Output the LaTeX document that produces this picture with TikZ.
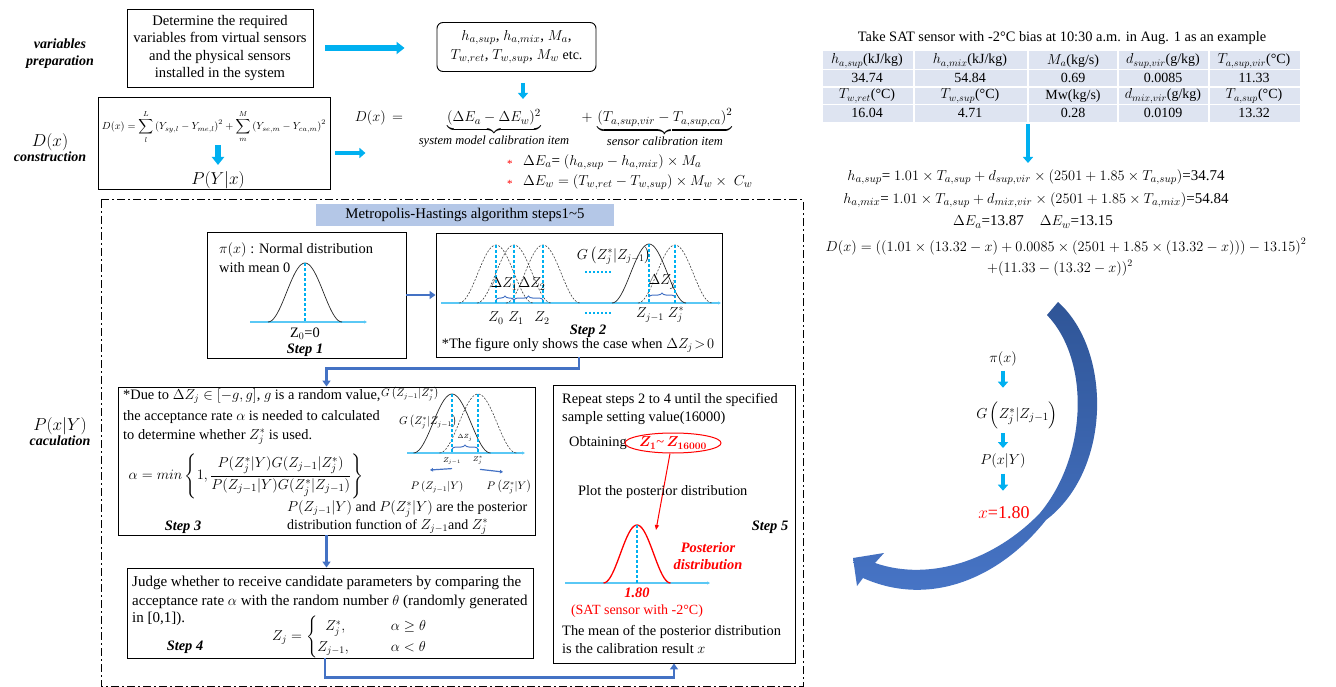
\documentclass[tikz,border=0pt]{standalone}
\usepackage{amsmath,amssymb}
\usepackage{graphicx}
\usepackage{fontspec}
\setmainfont{Liberation Serif}
\usetikzlibrary{arrows.meta,decorations.pathreplacing,shapes.geometric,calc}
\definecolor{cyanA}{RGB}{0,176,240}
\definecolor{blueA}{RGB}{68,114,196}
\definecolor{baseA}{RGB}{90,200,245}
\definecolor{titleA}{RGB}{180,199,231}
\definecolor{tabA}{RGB}{222,228,241}
\definecolor{arcA}{RGB}{47,85,151}
\definecolor{arcB}{RGB}{72,118,200}
\newcommand\fA{\fontsize{14.4}{17}\selectfont}
\newcommand\fB{\fontsize{14}{17}\selectfont}
\newcommand\fC{\fontsize{13}{15}\selectfont}
\newcommand\fM{\fontsize{15}{18}\selectfont}
\newcommand\mybell[5]{\draw[#1] plot[domain=-180:180,samples=41] ({#2+#3*\x/180},{#4-#5*(1+cos(\x))/2});}
\newcommand\tld{\char"7E\relax}
\begin{document}
\begin{tikzpicture}[x=1pt,y=-1pt,
 box/.style={draw, line width=0.9pt, inner sep=0pt},
 lbl/.style={align=center, font=\fB\bfseries\itshape},
 cyanarr/.style={draw=cyanA, line width=5.5pt, -{Triangle[length=8pt,width=12pt]}},
 cyansm/.style={draw=cyanA, line width=4.5pt, -{Triangle[length=6pt,width=10pt]}},
 bluecon/.style={draw=blueA, line width=2.4pt, -{Triangle[length=6pt,width=8pt]}},
 baseln/.style={draw=baseA, line width=1.2pt, -{Triangle[length=3pt,width=3pt]}},
 vdash/.style={draw=cyanA, line width=1.3pt, dash pattern=on 3pt off 2pt},
 dbell/.style={draw=black!75, line width=0.6pt, dash pattern=on 2pt off 1.5pt},
 sbell/.style={draw=black!85, line width=0.7pt},
 rbell/.style={draw=red, line width=1.3pt},
 bbrace/.style={draw=blueA, line width=1pt, decorate, decoration={brace, amplitude=4pt}},
 smallarr/.style={draw=blueA, line width=1.2pt, -{Triangle[length=3pt,width=3.5pt]}},
 txt/.style={anchor=west, inner sep=0pt, font=\fA},
 ellbox/.style={draw=red, line width=1pt, ellipse, minimum width=88pt, minimum height=20pt, inner sep=0pt, text=red, font=\fA},
]
\useasboundingbox (0,0) rectangle (1336,687);

% ---------- left labels
\node[lbl] (lv) at (60,54) {variables\\preparation};
\node[align=center] (ld) at (50,148) {{\fontsize{16}{17}\selectfont$D(x)$}\\{\fB\bfseries\itshape construction}};
\node[align=center] (lp) at (60,432) {{\fontsize{16}{17}\selectfont$P(x|Y)$}\\{\fB\bfseries\itshape caculation}};

% ---------- top boxes
\node[box, minimum width=186pt, minimum height=78pt, align=center, font=\fontsize{14.6}{17.3}\selectfont] (b1) at (220,48)
 {Determine the required\\variables from virtual sensors\\and the physical sensors\\installed in the system};
\node[box, rounded corners=6pt, minimum width=159pt, minimum height=49pt, align=center, font=\fM] (b2) at (516.5,47)
 {$h_{a,sup}$, $h_{a,mix}$, $M_a$,\\[1pt]$T_{w,ret}$, $T_{w,sup}$, $M_w$ {\fB etc.}};
\draw[cyanarr] ([xshift=12pt]b1.east) -- ([xshift=-32pt]b2.west |- b1.east);

\node[box, minimum width=232pt, minimum height=92pt] (b3) at (214,143) {};
\node (f1) at (214,127) {\resizebox{224pt}{!}{$D(x)=\displaystyle\sum_{l}^{L}\left(Y_{sy,l}-Y_{me,l}\right)^2+\sum_{m}^{M}\left(Y_{se,m}-Y_{ca,m}\right)^2$}};
\node[font=\fontsize{16}{17}\selectfont] (py) at (218,180) {$P(Y|x)$};
\coordinate (a3s) at (218,145);
\coordinate (a3e) at (218,165);
\draw[cyanarr] (a3s) -- (a3e);
\draw[cyansm] ([xshift=5pt,yshift=-10pt]b3.east) -- ([xshift=35pt,yshift=-10pt]b3.east);
\draw[cyansm] ([xshift=6.5pt,yshift=-11pt]b2.south) -- ([xshift=6.5pt,yshift=-27pt]b2.south);

% ---------- D(x) equation
\node[anchor=base, font=\fM] (deq) at (379,122) {$D(x)\,=$};
\node[anchor=base, font=\fM] (t1) at (494,122) {$\underbrace{(\Delta E_a-\Delta E_w)^2}_{\mbox{\fontsize{12.5}{13}\selectfont\itshape system model calibration item}}$};
\node[anchor=base, font=\fM] (t2) at (657,122) {$+\,\underbrace{\left(T_{a,sup,vir}-T_{a,sup,ca}\right)^2}_{\mbox{\fontsize{12.5}{13}\selectfont\itshape sensor calibration item}}$};
\node[anchor=west, text=red, font=\fontsize{11}{12}\selectfont, inner sep=0pt] (st1) at (507,164) {*};
\node[anchor=west, text=red, font=\fontsize{11}{12}\selectfont, inner sep=0pt] (st2) at (507,184) {*};
\node[anchor=west, font=\fM, inner sep=0pt] (ea) at (523,162) {$\Delta E_a$= $\left(h_{a,sup}-h_{a,mix}\right)\times M_a$};
\node[anchor=west, font=\fM, inner sep=0pt] (ew) at (523,182) {$\Delta E_w = \left(T_{w,ret}-T_{w,sup}\right)\times M_w\times\ C_w$};

% ---------- dash-dot frame
\draw[line width=1pt, dash pattern=on 8pt off 3pt on 2pt off 3pt] (101,200) rectangle (803,686);
\node[fill=titleA, minimum width=298pt, minimum height=22pt, inner sep=0pt, font=\fontsize{14.8}{17}\selectfont] (title) at (465,215) {Metropolis-Hastings algorithm steps1\tld 5};

% ---------- Step 1
\node[box, minimum width=199pt, minimum height=126pt] (s1) at (306.5,295) {};
\node[txt] (s1a) at (219,250) {{\fM$\pi(x)$} : Normal distribution};
\node[txt] (s1b) at (219,268) {with mean 0};
\draw[baseln] (250,322) -- (367,322);
\mybell{sbell}{305}{37}{322}{59}
\draw[vdash] (305,263) -- (305,322);
\node[font=\fA, inner sep=0pt] (z00) at (305,334) {Z$_0$=0};
\node[font=\fA\bfseries\itshape, inner sep=0pt] (st1l) at (305,350) {Step 1};

% ---------- Step 2
\node[box, minimum width=286pt, minimum height=124pt] (s2) at (579,295) {};
\draw[bluecon] (s1.east) -- (s2.west);
\draw[baseln] (441,303) -- (721,303);
\mybell{dbell}{496}{37}{303}{58}
\mybell{dbell}{514}{37}{303}{58}
\mybell{dbell}{543}{37}{303}{58}
\mybell{sbell}{649}{37}{303}{59}
\mybell{dbell}{675}{37}{303}{58}
\draw[vdash] (496,245) -- (496,303);
\draw[vdash] (514,245) -- (514,303);
\draw[vdash] (543,245) -- (543,303);
\draw[vdash] (649,244) -- (649,303);
\draw[vdash] (675,245) -- (675,303);
\draw[bbrace] (496,300) -- (514,300);
\draw[bbrace] (514,300) -- (543,300);
\draw[bbrace] (649,297) -- (675,297);
\node[font=\fB, inner sep=0pt] (dz1) at (504,284) {$\Delta Z_1$};
\node[font=\fB, inner sep=0pt] (dz2) at (532,284) {$\Delta Z_2$};
\node[font=\fB, inner sep=0pt] (dzj) at (662,282) {$\Delta Z_j$};
\node[font=\fB, inner sep=0pt] (g2) at (614,256) {$G\left(Z_j^*|Z_{j-1}\right)$};
\draw[cyanA, line width=1.3pt, dash pattern=on 2pt off 2pt] (585,272) -- (612,272);
\draw[cyanA, line width=1.3pt, dash pattern=on 2pt off 2pt] (585,313) -- (612,313);
\node[font=\fB, inner sep=0pt] (z0) at (496,318) {$Z_0$};
\node[font=\fB, inner sep=0pt] (z1) at (516,318) {$Z_1$};
\node[font=\fB, inner sep=0pt] (z2) at (542,318) {$Z_2$};
\node[font=\fB, inner sep=0pt] (zj1) at (650,315) {$Z_{j-1}$};
\node[font=\fB, inner sep=0pt] (zjs) at (676,315) {$Z_j^*$};
\node[font=\fA\bfseries\itshape, inner sep=0pt] (st2l) at (588,331) {Step 2};
\node[font=\fA, inner sep=0pt] (note2) at (578,345) {*The figure only shows the case when $\Delta Z_j\!>\!0$};

% ---------- Step 3
\node[box, minimum width=417pt, minimum height=148pt] (s3) at (326.5,461) {};
\draw[bluecon] (s2.south) -- ++(0,11) -| (s3.north);
\node[txt] (s3a) at (123,396) {*Due to $\Delta Z_j\in[-g,g]$, $g$ is a random value,};
\node[txt] (s3b) at (123,417) {the acceptance rate $\alpha$ is needed to calculated};
\node[txt] (s3c) at (123,437) {to determine whether $Z_j^*$ is used.};
\node[font=\fM, inner sep=0pt] (alpha) at (246,476) {$\alpha = min\left\{1,\dfrac{P(Z_j^*|Y)G(Z_{j-1}|Z_j^*)}{P(Z_{j-1}|Y)G(Z_j^*|Z_{j-1})}\right\}$};
\node[txt, font=\fB] (s3d) at (287,509) {$P(Z_{j-1}|Y)$ and $P(Z_j^*|Y)$ are the posterior};
\node[txt, font=\fB] (s3e) at (287,527) {distribution function of $Z_{j-1}$and $Z_j^*$};
\node[font=\fA\bfseries\itshape, inner sep=0pt] (st3l) at (183,527) {Step 3};
\draw[baseln] (407,453) -- (525,453);
\mybell{sbell}{452}{38.5}{453}{59}
\mybell{dbell}{478}{38.5}{453}{59}
\draw[vdash] (452,394) -- (452,453);
\draw[vdash] (478,394) -- (478,453);
\draw[bbrace] (452,449) -- (478,449);
\node[font=\fontsize{6}{7}\selectfont, inner sep=0pt] (dzs) at (465,438) {$\Delta Z_j$};
\node[font=\fontsize{7}{8}\selectfont, inner sep=0pt] (zs1) at (452,461) {$Z_{j-1}$};
\node[font=\fontsize{7}{8}\selectfont, inner sep=0pt] (zs2) at (478,460) {$Z_j^*$};
\node[font=\fontsize{10.5}{11}\selectfont, inner sep=0pt] (g3a) at (410,394) {$G\left(Z_{j-1}|Z_j^*\right)$};
\node[font=\fontsize{10.5}{11}\selectfont, inner sep=0pt] (g3b) at (428,422) {$G\left(Z_j^*|Z_{j-1}\right)$};
\node[font=\fontsize{10.5}{11}\selectfont, inner sep=0pt] (p3a) at (437,487) {$P\left(Z_{j-1}|Y\right)$};
\node[font=\fontsize{10.5}{11}\selectfont, inner sep=0pt] (p3b) at (509,487) {$P\left(Z_j^*|Y\right)$};
\draw[smallarr] ([yshift=-4pt]zs1.south) -- (430,470);
\draw[smallarr] ([xshift=2pt,yshift=-5pt]zs2.south) -- (503,472);

% ---------- Step 4
\node[box, minimum width=406pt, minimum height=90pt] (s4) at (330,613) {};
\draw[bluecon] (s3.south) -- (s3.south |- s4.north);
\node[txt, font=\fontsize{15}{17}\selectfont] (s4a) at (132,583) {Judge whether to receive candidate parameters by comparing the};
\node[txt, font=\fontsize{15}{17}\selectfont] (s4b) at (132,602) {acceptance rate $\alpha$ with the random number $\theta$ (randomly generated};
\node[txt, font=\fontsize{15}{17}\selectfont] (s4c) at (132,619) {in [0,1]).};
\node[font=\fA\bfseries\itshape, inner sep=0pt] (st4l) at (185,647) {Step 4};
\node[anchor=west, font=\fB, inner sep=0pt] (cases) at (272,637) {$Z_j=\begin{cases} \;\;Z_j^*, & \qquad\alpha\ge\theta\\ Z_{j-1}, & \qquad\alpha<\theta\end{cases}$};

% ---------- Step 5
\node[box, minimum width=242pt, minimum height=278pt] (s5) at (674,524) {};
\draw[bluecon] ([xshift=-5pt]s4.south) -- ++(0,19) -| (s5.south);
\node[txt] (s5a) at (562,400) {Repeat steps 2 to 4 until the specified};
\node[txt] (s5b) at (562,418) {sample setting value(16000)};
\node[txt] (s5c) at (569,443) {Obtaining};
\node[ellbox] (ell) at (673,443) {$\boldsymbol{Z_1}$\tld\,$\boldsymbol{Z_{16000}}$};
\coordinate (pk) at (656,530);
\draw[red, line width=1pt, -{Triangle[length=5pt,width=4pt]}] ([xshift=-3pt]ell.south) -- (pk);
\node[txt] (s5d) at (578,492) {Plot the posterior distribution};
\node[font=\fA\bfseries\itshape, inner sep=0pt] (st5l) at (770,527) {Step 5};
\draw[baseln] (565,583) -- (710,583);
\mybell{rbell}{637}{33.5}{583}{58}
\draw[vdash] (637,525) -- (637,583);
\node[align=center, text=red, font=\fA\bfseries\itshape, inner sep=0pt] (post) at (708,556) {Posterior\\distribution};
\node[text=red, font=\fA\bfseries\itshape, inner sep=0pt] (v180) at (637,593) {1.80};
\node[text=red, font=\fB, inner sep=0pt] (sat) at (637,611) {(SAT sensor with -2°C)};
\node[txt] (s5e) at (562,632) {The mean of the posterior distribution};
\node[txt] (s5f) at (562,649) {is the calibration result $x$};

% ---------- right side
\node[font=\fA, inner sep=0pt] (take) at (1062,38) {Take SAT sensor with -2°C bias at 10:30 a.m. in Aug. 1 as an example};
\fill[tabA] (823,51) rectangle (1300,122);
\foreach \xx in {914,1028,1118,1209} \draw[white, line width=1.5pt] (\xx,51) -- (\xx,122);
\draw[white, line width=1.5pt] (823,87) -- (1300,87);
\draw[white, line width=0.5pt] (823,69.5) -- (1300,69.5);
\draw[white, line width=0.5pt] (823,104.5) -- (1300,104.5);
\node[font=\fB] (c11) at (867,61) {$h_{a,sup}$(kJ/kg)};
\node[font=\fB] (c12) at (970,61) {$h_{a,mix}$(kJ/kg)};
\node[font=\fB] (c13) at (1073,61) {$M_a$(kg/s)};
\node[font=\fB] (c14) at (1163,61) {$d_{sup,vir}$(g/kg)};
\node[font=\fB] (c15) at (1254,61) {$T_{a,sup,vir}$(°C)};
\node[font=\fB] (c21) at (867,78) {34.74};
\node[font=\fB] (c22) at (970,78) {54.84};
\node[font=\fB] (c23) at (1073,78) {0.69};
\node[font=\fB] (c24) at (1163,78) {0.0085};
\node[font=\fB] (c25) at (1254,78) {11.33};
\node[font=\fB] (c31) at (867,96) {$T_{w,ret}$(°C)};
\node[font=\fB] (c32) at (970,96) {$T_{w,sup}$(°C)};
\node[font=\fB] (c33) at (1073,96) {Mw(kg/s)};
\node[font=\fB] (c34) at (1163,96) {$d_{mix,vir}$(g/kg)};
\node[font=\fB] (c35) at (1254,96) {$T_{a,sup}$(°C)};
\node[font=\fB] (c41) at (867,113) {16.04};
\node[font=\fB] (c42) at (970,113) {4.71};
\node[font=\fB] (c43) at (1073,113) {0.28};
\node[font=\fB] (c44) at (1163,113) {0.0109};
\node[font=\fB] (c45) at (1254,113) {13.32};
\node[font=\fM] (r1) at (1036,177) {$h_{a,sup}$= $1.01\times T_{a,sup}+d_{sup,vir}\times\left(2501+1.85\times T_{a,sup}\right)$=34.74};
\coordinate (tb) at (1028,124);
\coordinate (te) at (1028,163);
\draw[cyansm] (tb) -- (te);
\node[font=\fM] (r2) at (1036,200) {$h_{a,mix}$= $1.01\times T_{a,sup}+d_{mix,vir}\times\left(2501+1.85\times T_{a,mix}\right)$=54.84};
\node[font=\fM] (r3) at (1033,222) {$\Delta E_a$=13.87\hspace{16pt}$\Delta E_w$=13.15};
\node[font=\fontsize{14.8}{17}\selectfont] (r4) at (1066,247) {$D(x)=\left(\left(1.01\times(13.32-x)+0.0085\times\left(2501+1.85\times(13.32-x)\right)\right)-13.15\right)^2$};
\node[font=\fontsize{14.8}{17}\selectfont] (r5) at (1060,268) {$+(11.33-(13.32-x))^2$};

% curved arrow
\path[top color=arcA, bottom color=arcB]
 (1058,302) .. controls (1112,350) and (1112,470) .. (1046,520)
 .. controls (1000,578) and (930,608) .. (863,578)
 -- (857,586) -- (853,558) -- (884,553) -- (875,563)
 .. controls (930,582) and (995,560) .. (1040,513)
 .. controls (1088,455) and (1090,360) .. (1047,315) -- cycle;

\node[font=\fM] (pi) at (1003,359) {$\pi(x)$};
\node[font=\fM] (gz) at (1017,415) {$G\left(Z_j^*|Z_{j-1}\right)$};
\node[font=\fM] (pxy) at (1003,461) {$P(x|Y)$};
\node[font=\fontsize{18}{20}\selectfont, text=red] (x180) at (1004,513) {$x$=1.80};
\draw[cyansm] ([yshift=-1pt]pi.south) -- ([yshift=-18pt]pi.south);
\draw[cyansm] ([xshift=-14pt,yshift=-1pt]gz.south) -- ([xshift=-14pt,yshift=-16pt]gz.south);
\draw[cyansm] ([yshift=-2pt]pxy.south) -- ([yshift=-19pt]pxy.south);
\end{tikzpicture}
\end{document}
